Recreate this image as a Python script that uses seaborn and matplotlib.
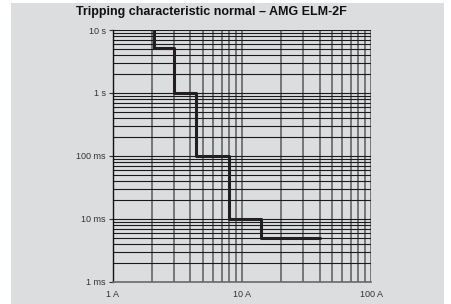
import matplotlib
matplotlib.use("Agg")
import matplotlib.pyplot as plt
from matplotlib.patches import Rectangle
from matplotlib.ticker import FixedLocator, LogLocator, NullFormatter
import pandas as pd
import seaborn as sns

# step curve: current where each step drops, and the time level of each step
step_currents = [2.1, 3.0, 4.4, 8.0, 14.0]
step_times = [10.0, 5.2, 1.0, 0.1, 0.01, 0.005]
end_current = 40.0

time_ticks = [0.001, 0.01, 0.1, 1, 10]
time_labels = ["1 ms", "10 ms", "100 ms", "1 s", "10 s"]
current_ticks = [1, 10, 100]
current_labels = ["1 A", "10 A", "100 A"]

bg = "#dcdddf"
ink = "#231f20"

# build the corner points of the step line
xs = [step_currents[0]]
ys = [step_times[0]]
for i, c in enumerate(step_currents):
    xs += [c, c]
    ys += [step_times[i], step_times[i + 1]]
xs.append(end_current)
ys.append(step_times[-1])
curve = pd.DataFrame({"I": xs, "t": ys})

sns.set_style("white")
plt.rcParams["font.family"] = ["Liberation Sans", "DejaVu Sans"]

fig = plt.figure(figsize=(4.51, 3.04), dpi=100)
fig.patch.set_facecolor("white")
fig.patches.append(Rectangle((11 / 451, 0), (444 - 11) / 451, 1 - 3 / 304,
                             transform=fig.transFigure, facecolor=bg,
                             edgecolor="none", zorder=-10))

ax = fig.add_axes([112.7 / 451, 1 - 281.7 / 304, (371 - 112.7) / 451, (281.7 - 30) / 304])
ax.set_facecolor(bg)
ax.set_xscale("log")
ax.set_yscale("log")

sns.lineplot(data=curve, x="I", y="t", sort=False, estimator=None,
             color=ink, lw=2.2, ax=ax, zorder=5)
ax.set_xlim(1, 100)
ax.set_ylim(0.001, 10)

# grid
ax.xaxis.set_minor_locator(LogLocator(base=10, subs=range(2, 10)))
ax.yaxis.set_minor_locator(LogLocator(base=10, subs=range(2, 10)))
ax.xaxis.set_minor_formatter(NullFormatter())
ax.yaxis.set_minor_formatter(NullFormatter())
ax.grid(True, which="both", axis="x", color="#5a5a5a", lw=1.1)
ax.grid(True, which="both", axis="y", color="#1a1a1a", lw=0.8)

ax.xaxis.set_major_locator(FixedLocator(current_ticks))
ax.yaxis.set_major_locator(FixedLocator(time_ticks))
ax.set_xticklabels(current_labels)
ax.set_yticklabels(time_labels)
ax.tick_params(axis="y", which="major", length=3, width=0.8, color="#333333",
               labelsize=6.5, labelcolor="#333333", pad=2, left=True)
ax.tick_params(axis="x", which="major", length=0, labelsize=6.5,
               labelcolor="#333333", pad=6)
ax.tick_params(which="minor", length=0)
ax.set_xlabel("")
ax.set_ylabel("")

for side in ["top", "right"]:
    ax.spines[side].set_visible(False)
ax.spines["left"].set_color("#111111")
ax.spines["left"].set_linewidth(1.0)
ax.spines["bottom"].set_color("#6a6a6a")
ax.spines["bottom"].set_linewidth(1.2)

fig.text(211 / 451, 1 - 12 / 304, "Tripping characteristic normal – AMG ELM-2F",
         ha="center", va="center", fontsize=9, fontweight="bold", color="#111111")

fig.savefig("out.png", dpi=100, facecolor="white")
